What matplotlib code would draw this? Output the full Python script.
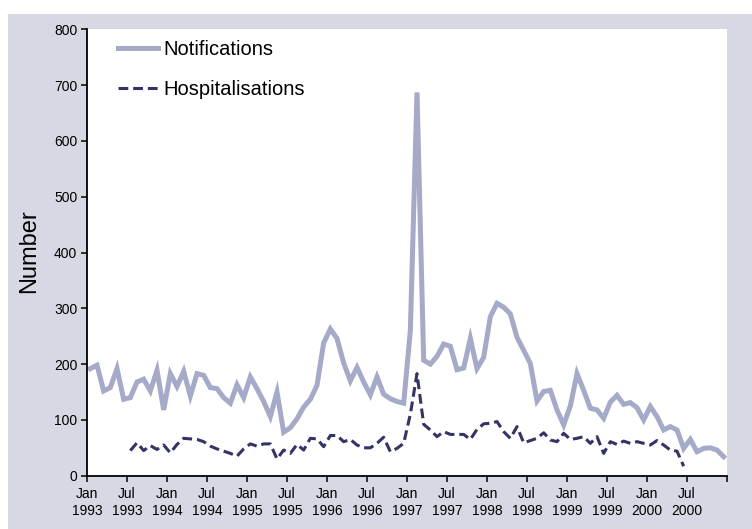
import numpy as np
import matplotlib
matplotlib.use("Agg")
import matplotlib.pyplot as plt
from matplotlib.patches import Rectangle

plt.rcParams['font.family'] = ['Liberation Sans', 'DejaVu Sans']

# ---- data (monthly, Jan 1993 - Dec 2000) ----
notifications = [192, 198, 152, 158, 192, 137, 140, 168, 173, 152, 189, 118,
                 183, 160, 187, 143, 183, 180, 158, 156, 140, 130, 163, 140,
                 177, 156, 133, 106, 150, 78, 86, 102, 123, 137, 162, 238,
                 263, 246, 202, 170, 194, 168, 145, 177, 146, 138, 133, 130,
                 260, 687, 207, 200, 214, 236, 232, 190, 193, 246, 192, 212,
                 285, 309, 302, 290, 248, 225, 201, 134, 151, 153, 118, 91,
                 125, 183, 153, 121, 118, 103, 132, 144, 128, 131, 122, 100,
                 124, 106, 82, 88, 82, 49, 65, 43, 49, 50, 46, 34]

nan = np.nan
hospitalisations = [nan, nan, nan, nan, nan, nan, 45, 59, 45, 54, 47, 55,
                    41, 56, 67, 66, 65, 61, 53, 48, 44, 40, 35, 48,
                    57, 53, 57, 57, 30, 46, 40, 56, 46, 67, 66, 52,
                    72, 72, 61, 65, 55, 50, 50, 58, 69, 43, 49, 58,
                    110, 183, 92, 82, 70, 79, 74, 74, 74, 65, 83, 93,
                    94, 97, 79, 67, 88, 59, 63, 67, 77, 64, 61, 76,
                    65, 67, 70, 58, 70, 40, 61, 56, 62, 58, 61, 58,
                    55, 63, 55, 46, 44, 17, nan, nan, nan, nan, nan, nan]

tick_months = ['Jan', 'Jul']
tick_years = [1993, 1994, 1995, 1996, 1997, 1998, 1999, 2000]
tick_labels = [f"{m}\n{y}" for y in tick_years for m in tick_months] + ['']
series_labels = ['Notifications', 'Hospitalisations']

# ---- figure ----
W, H = 752, 529
fig = plt.figure(figsize=(W / 100, H / 100), dpi=100)
fig.patch.set_facecolor('white')
bg = Rectangle((8 / W, 0), 1 - 8 / W, 1 - 14 / H,
               transform=fig.transFigure, facecolor='#d6d8e4',
               edgecolor='none', zorder=-10)
fig.add_artist(bg)

ax = fig.add_axes([87 / W, 1 - 475.7 / H, 640 / W, (475.7 - 29.4) / H])
ax.set_zorder(5)
ax.set_facecolor('white')

x = np.arange(len(notifications)) + 0.5
ax.plot(x, notifications, color='#a4aac8', lw=3.6, solid_joinstyle='miter',
        label=series_labels[0], zorder=2)
ax.plot(x, hospitalisations, color='#333366', lw=2.2, dashes=(3.2, 1.6),
        dash_capstyle='butt', label=series_labels[1], zorder=3)

ax.set_xlim(0, 96)
ax.set_ylim(0, 800)
ax.set_yticks(np.arange(0, 801, 100))
ax.set_xticks(np.arange(0, 97, 6))
ax.set_xticklabels(tick_labels)

for s in ['top', 'right']:
    ax.spines[s].set_visible(False)
for s in ['left', 'bottom']:
    ax.spines[s].set_linewidth(1.3)
    ax.spines[s].set_color('black')

ax.tick_params(axis='both', direction='out', length=4, width=1.1,
               colors='black', labelsize=10)
ax.tick_params(axis='y', pad=3)
ax.tick_params(axis='x', pad=4)
for lab in ax.get_xticklabels():
    lab.set_linespacing(1.25)

fig.text(29 / W, 1 - 251 / H, 'Number', rotation=90, ha='center',
         va='center', fontsize=17)

leg = ax.legend(loc='upper left', bbox_to_anchor=(0.048, 0.977),
                frameon=False, fontsize=14.5, handlelength=2.0,
                handletextpad=0.25, labelspacing=1.05, borderpad=0,
                borderaxespad=0)

fig.savefig('out.png', dpi=100, facecolor=fig.get_facecolor())
